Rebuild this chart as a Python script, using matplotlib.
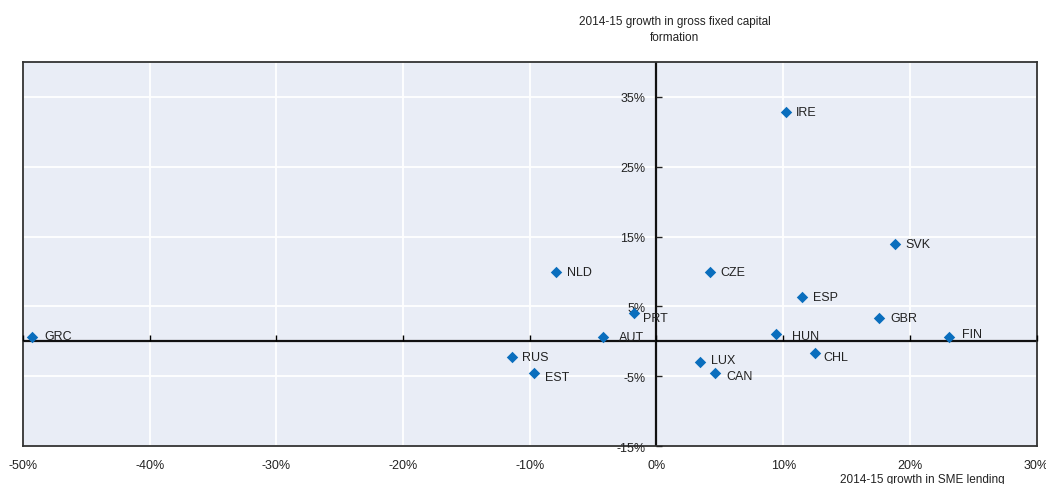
import matplotlib
matplotlib.use('Agg')
import matplotlib.pyplot as plt
import matplotlib.ticker as mticker

plt.rcParams['font.family'] = ['Liberation Sans', 'DejaVu Sans']

# 2014-15 growth, in %
countries = ['GRC', 'IRE', 'SVK', 'NLD', 'CZE', 'ESP', 'PRT', 'GBR', 'AUT',
             'HUN', 'FIN', 'RUS', 'CHL', 'LUX', 'EST', 'CAN']
sme_lending = [-49.3, 10.2, 18.8, -7.9, 4.2, 11.5, -1.8, 17.6, -4.2,
               9.4, 23.1, -11.4, 12.5, 3.4, -9.7, 4.6]
gfcf = [0.7, 32.9, 14.0, 10.0, 10.0, 6.4, 4.0, 3.3, 0.7,
        1.1, 0.7, -2.2, -1.6, -2.9, -4.5, -4.5]

x_ticks = [-50, -40, -30, -20, -10, 0, 10, 20, 30]
y_ticks = [-15, -5, 5, 15, 25, 35]

# label offsets in points (most sit just right of the marker)
label_offsets = {'AUT': (11.5, 0), 'PRT': (7, -3), 'HUN': (11.5, -1.5),
                 'CHL': (6, -3), 'FIN': (9, 2), 'CAN': (8, -2),
                 'LUX': (8, 1.5), 'EST': (8, -3), 'GRC': (9, 0.5)}

bg = '#e9edf6'
blue = '#0a6ebd'
txt = '#222222'

fig = plt.figure(figsize=(10.46, 4.85), dpi=100)
ax = fig.add_axes([0.022, 0.078, 0.969, 0.792])
ax.set_facecolor(bg)
ax.set_xlim(-50, 30)
ax.set_ylim(-15, 40)

ax.set_xticks(x_ticks)
ax.set_yticks(y_ticks)
ax.grid(True, color='white', linewidth=1.3)
ax.set_axisbelow(True)
ax.xaxis.set_major_formatter(mticker.FuncFormatter(lambda v, p: f'{v:.0f}%'))
ax.tick_params(axis='x', length=0, pad=9, labelsize=9, colors=txt)
ax.tick_params(axis='y', length=0, labelleft=False)
for sp in ax.spines.values():
    sp.set_color('#333333')
    sp.set_linewidth(1.3)

ax.axhline(0, color='#111111', linewidth=1.6, zorder=2)
ax.axvline(0, color='#111111', linewidth=1.6, zorder=2)

# ticks sitting on the zero lines
x0 = (0 - ax.get_xlim()[0]) / (ax.get_xlim()[1] - ax.get_xlim()[0])
y0 = (0 - ax.get_ylim()[0]) / (ax.get_ylim()[1] - ax.get_ylim()[0])
secx = ax.secondary_xaxis(y0)
secx.set_xticks(x_ticks)
secx.tick_params(direction='in', length=4, width=1, labelbottom=False, labeltop=False)
secx.spines['bottom'].set_visible(False)
secx.spines['top'].set_visible(False)
secx.set_zorder(3)
secy = ax.secondary_yaxis(x0)
secy.set_alignment('left')
secy.set_yticks(y_ticks)
secy.yaxis.set_major_formatter(mticker.FuncFormatter(lambda v, p: f'{v:.0f}%'))
secy.tick_params(direction='in', length=4, width=1, pad=8, labelsize=9, colors=txt)
secy.spines['left'].set_visible(False)
secy.spines['right'].set_visible(False)
secy.set_zorder(3)

ax.scatter(sme_lending, gfcf, marker='D', s=34, color=blue, zorder=4, linewidths=0)
for c, xv, yv in zip(countries, sme_lending, gfcf):
    dx, dy = label_offsets.get(c, (7.5, 0))
    ax.annotate(c, (xv, yv), xytext=(dx, dy), textcoords='offset points',
                ha='left', va='center', fontsize=9, color=txt, zorder=5)

fig.text(0.645, 0.939, '2014-15 growth in gross fixed capital\nformation',
         ha='center', va='center', fontsize=8.5, color=txt, linespacing=1.45)
fig.text(0.882, 0.004, '2014-15 growth in SME lending',
         ha='center', va='baseline', fontsize=8.5, color=txt)

fig.savefig('out.png', dpi=100)
